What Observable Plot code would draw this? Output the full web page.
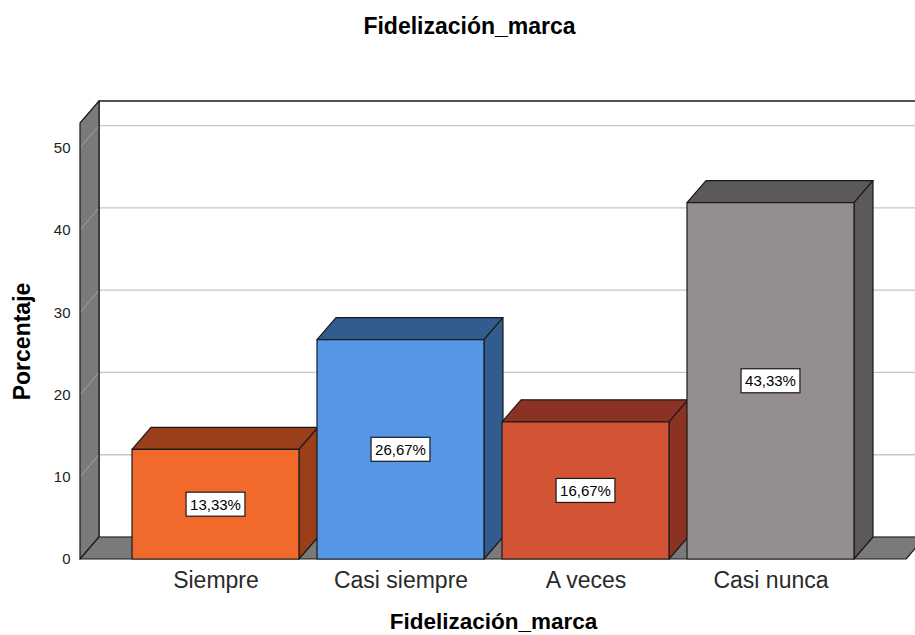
<!DOCTYPE html>
<html>
<head>
<meta charset="utf-8">
<script src="https://cdn.jsdelivr.net/npm/d3@7"></script>
<script src="https://cdn.jsdelivr.net/npm/@observablehq/plot@0.6"></script>
<style>
  body { margin: 0; background: #fff; }
  #chart svg { display: block; }
</style>
</head>
<body>
<div id="chart"></div>
<script>
// ---- data ----
const categories = ["Siempre", "Casi siempre", "A veces", "Casi nunca"];
const percentages = [13.33, 26.67, 16.67, 43.33];
const valueLabels = ["13,33%", "26,67%", "16,67%", "43,33%"];
const frontColors = ["#f26a2b", "#5596e6", "#d35434", "#948f8e"];
const shadeColors = ["#9a3f1a", "#335c8e", "#8b3222", "#5c5a59"];
const yTicks = [0, 10, 20, 30, 40, 50];
const yMax = 53;
const titleText = "Fidelización_marca";
const xTitle = "Fidelización_marca";
const yTitle = "Porcentaje";

// 3D depth offsets (pixels)
const depthX = 19, depthY = -22;
const FONT = "'Liberation Sans', Arial, Helvetica, sans-serif";

const data = categories.map((c, i) => ({
  category: c, value: percentages[i], label: valueLabels[i],
  front: frontColors[i], shade: shadeColors[i]
}));

const measureCtx = document.createElement("canvas").getContext("2d");

function scene(index, scales, values, dims) {
  const {x, y} = scales;
  const L = dims.marginLeft, R = dims.width - dims.marginRight;
  const B = y(0), T = y(yMax);
  const dx = depthX, dy = depthY;
  const stroke = "#1a1a1a";
  const g = d3.create("svg:g");
  const poly = (pts, fill, s = stroke, sw = 1.2) =>
    g.append("polygon")
      .attr("points", pts.map(p => p.join(",")).join(" "))
      .attr("fill", fill).attr("stroke", s).attr("stroke-width", sw)
      .attr("stroke-linejoin", "round");
  const line = (x1, y1, x2, y2, s, sw) =>
    g.append("line").attr("x1", x1).attr("y1", y1).attr("x2", x2).attr("y2", y2)
      .attr("stroke", s).attr("stroke-width", sw);

  // back wall
  poly([[L + dx, T + dy], [R + dx, T + dy], [R + dx, B + dy], [L + dx, B + dy]], "#fff", "none");
  for (const t of yTicks) line(L + dx, y(t) + dy, R + dx, y(t) + dy, "#c6c6c6", 1.3);
  g.append("path").attr("d", `M${R + dx},${T + dy}H${L + dx}V${B + dy}`)
    .attr("fill", "none").attr("stroke", stroke).attr("stroke-width", 1.3);

  // left wall
  poly([[L, T], [L + dx, T + dy], [L + dx, B + dy], [L, B]], "#7a7a7a");
  for (const t of yTicks) line(L + 1, y(t) - 1, L + dx - 1, y(t) + dy + 1, "#a2a2a2", 1);

  // floor
  poly([[L, B], [R, B], [R + dx, B + dy], [L + dx, B + dy]], "#7a7a7a");

  // bars
  const bw = x.bandwidth();
  for (const d of data) {
    const x0 = x(d.category), x1 = x0 + bw, y1 = y(d.value);
    poly([[x0, y1], [x1, y1], [x1 + dx, y1 + dy], [x0 + dx, y1 + dy]], d.shade);
    poly([[x1, y1], [x1 + dx, y1 + dy], [x1 + dx, B + dy], [x1, B]], d.shade);
    poly([[x0, y1], [x1, y1], [x1, B], [x0, B]], d.front);
  }

  // value labels in boxes
  measureCtx.font = `15px ${FONT}`;
  for (const d of data) {
    const cx = x(d.category) + bw / 2, cy = (y(d.value) + B) / 2;
    const w = measureCtx.measureText(d.label).width + 8, h = 24;
    g.append("rect").attr("x", cx - w / 2).attr("y", cy - h / 2)
      .attr("width", w).attr("height", h)
      .attr("fill", "#fff").attr("stroke", stroke).attr("stroke-width", 1.2);
    g.append("text").attr("x", cx).attr("y", cy).attr("dy", "0.36em")
      .attr("text-anchor", "middle").attr("font-size", 15)
      .attr("font-family", FONT).attr("fill", "#000").text(d.label);
  }
  return g.node();
}

const chart = Plot.plot({
  width: 915,
  height: 635,
  marginLeft: 80,
  marginRight: 9,
  marginTop: 123,
  marginBottom: 76,
  style: {fontFamily: FONT, background: "#fff", color: "#222", overflow: "visible"},
  x: {type: "band", domain: categories, paddingInner: 0.1, paddingOuter: 0.275, align: 0.5, label: null},
  y: {type: "linear", domain: [0, yMax], label: null},
  marks: [
    scene,
    Plot.axisY(yTicks, {tickSize: 0, tickPadding: 10, fontSize: 15, label: null, fill: "#222"}),
    Plot.axisX({tickSize: 0, tickPadding: 12, fontSize: 23, label: null, fill: "#2a2a2a"}),
    Plot.text([titleText], {frameAnchor: "top", dx: -24, dy: -97, lineAnchor: "middle",
      fontSize: 23, fontWeight: "bold", fill: "#000"}),
    Plot.text([xTitle], {frameAnchor: "bottom", dy: 62, lineAnchor: "middle",
      fontSize: 22.5, fontWeight: "bold", fill: "#000"}),
    Plot.text([yTitle], {frameAnchor: "left", dx: -58, rotate: -90, lineAnchor: "middle",
      textAnchor: "middle", fontSize: 23, fontWeight: "bold", fill: "#000"})
  ]
});

document.getElementById("chart").appendChild(chart);
</script>
</body>
</html>
